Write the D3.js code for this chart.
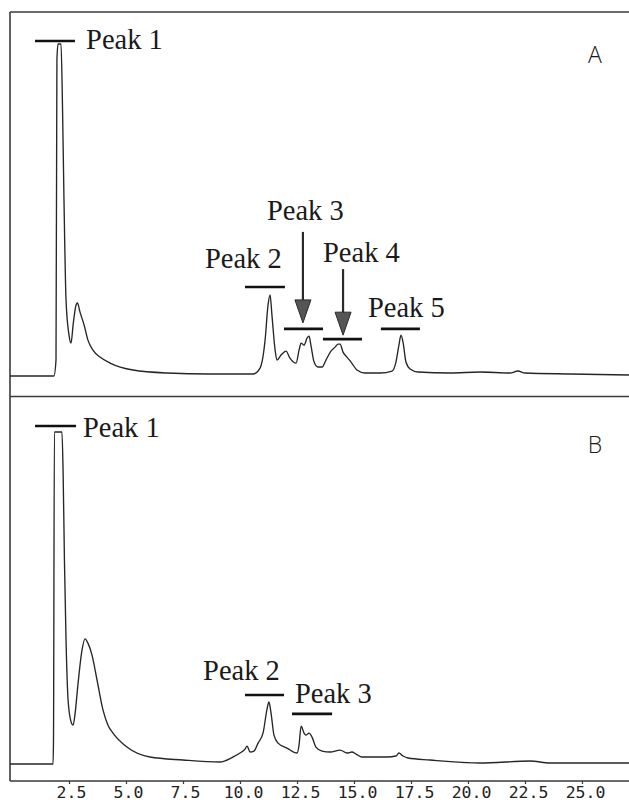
<!DOCTYPE html>
<html>
<head>
<meta charset="utf-8">
<script src="https://cdn.jsdelivr.net/npm/d3@7"></script>
<style>
  html, body { margin: 0; padding: 0; background: #fff; }
  svg { display: block; }
</style>
</head>
<body>
<div id="chart"></div>
<script>
// Retention time (min) and detector signal (relative units) for chromatogram A
const timeA = [-0.1, 1.84, 1.93, 1.97, 2.02, 2.15, 2.21, 2.28, 2.37, 2.50, 2.59, 2.68, 2.81, 2.87, 2.98, 3.16, 3.33, 3.55, 3.86, 4.30, 5.31, 6.80, 8.68, 10.57, 10.88, 11.10, 11.23, 11.32, 11.40, 11.54, 11.62, 11.80, 12.02, 12.19, 12.46, 12.59, 12.68, 12.81, 12.94, 13.03, 13.11, 13.25, 13.42, 13.60, 13.77, 13.99, 14.17, 14.30, 14.39, 14.52, 14.69, 14.87, 15.13, 15.48, 16.14, 16.67, 16.84, 16.97, 17.06, 17.15, 17.28, 17.46, 17.81, 19.21, 20.53, 21.84, 22.19, 22.50, 24.47, 27.1];
const signalA = [0, 0, 4.8, 95.2, 100, 100, 83.1, 53.0, 22.9, 12.3, 9.9, 15.4, 21.4, 22.0, 19.3, 15.4, 10.8, 7.8, 5.7, 3.9, 1.8, 0.9, 0.6, 0.6, 2.4, 10.8, 21.4, 24.4, 18.4, 7.8, 4.8, 6.3, 7.5, 5.4, 3.9, 7.8, 9.9, 9.3, 11.4, 12.0, 9.3, 4.2, 2.7, 2.7, 4.8, 7.5, 8.7, 9.6, 9.6, 7.2, 5.7, 4.2, 1.8, 0.9, 0.9, 1.5, 4.2, 9.3, 12.3, 10.2, 4.2, 2.1, 1.2, 0.9, 1.2, 0.9, 1.5, 0.9, 0.6, 0.3];

// Retention time (min) and detector signal (relative units) for chromatogram B
const timeB = [-0.1, 1.80, 1.82, 1.86, 2.19, 2.24, 2.30, 2.37, 2.46, 2.59, 2.68, 2.76, 2.89, 3.07, 3.20, 3.33, 3.51, 3.73, 3.99, 4.21, 4.43, 5.04, 6.05, 7.50, 9.12, 9.69, 10.00, 10.22, 10.31, 10.44, 10.61, 10.79, 11.01, 11.18, 11.27, 11.36, 11.49, 11.67, 12.06, 12.50, 12.59, 12.68, 12.81, 12.89, 13.03, 13.16, 13.33, 13.60, 13.95, 14.39, 14.69, 14.91, 15.09, 15.35, 16.45, 16.84, 16.97, 17.15, 17.37, 18.33, 20.53, 22.72, 23.60, 27.1];
const signalB = [0, 0, 7.2, 100, 100, 88.6, 61.4, 37.3, 19.3, 12.7, 11.7, 14.8, 23.8, 34.3, 37.7, 36.4, 32.8, 25.3, 16.3, 11.7, 9.3, 5.1, 2.1, 1.2, 0.6, 2.1, 3.3, 4.5, 5.4, 3.6, 3.9, 6.3, 9.3, 16.3, 18.7, 15.4, 8.7, 6.3, 4.8, 3.3, 5.7, 11.4, 9.3, 8.7, 9.3, 8.1, 5.1, 3.9, 3.6, 4.2, 3.3, 3.6, 3.0, 2.1, 2.1, 2.4, 3.3, 2.4, 1.8, 1.2, 0.3, 0.9, 0.3, 0.3];

// Axis tick values (min)
const tickValues = [2.5, 5.0, 7.5, 10.0, 12.5, 15.0, 17.5, 20.0, 22.5, 25.0];

// Peak annotations for A: collection window (min), marker level, label anchor
const peakNamesA = ["Peak 1", "Peak 2", "Peak 3", "Peak 4", "Peak 5"];
const peakStartA = [1.01, 10.22, 11.93, 13.64, 16.18];
const peakEndA   = [2.76, 11.97, 13.64, 15.35, 17.89];
const peakLevelA = [100.9, 26.8, 14.2, 11.1, 14.2];
const labelTimeA  = [3.25, 8.46, 11.18, 13.64, 15.61];
const labelLevelA = [98.5, 32.5, 47.0, 34.3, 17.8];
// Arrows in A pointing at the minor peaks
const arrowTimeA  = [12.76, 14.52];
const arrowFromA  = [43.4, 32.2];
const arrowToA    = [16.0, 12.3];

// Peak annotations for B
const peakNamesB = ["Peak 1", "Peak 2", "Peak 3"];
const peakStartB = [1.01, 10.22, 12.28];
const peakEndB   = [2.81, 11.93, 14.04];
const peakLevelB = [101.8, 20.8, 15.1];
const labelTimeB  = [3.11, 8.38, 12.41];
const labelLevelB = [98.5, 25.3, 18.4];

const panelTitles = ["A", "B"];

// ---- layout ----
const W = 629, H = 802;
const left = 10, right = 629;
const topA = 12, divY = 396.5, bottomY = 781;

const svg = d3.select("#chart").append("svg")
  .attr("width", W).attr("height", H);

const x = d3.scaleLinear().domain([0, 25]).range([12, 582]);
const yA = d3.scaleLinear().domain([0, 100]).range([376, 44]);
const yB = d3.scaleLinear().domain([0, 100]).range([764, 432]);

svg.append("defs").append("clipPath").attr("id", "plotclip")
  .append("rect").attr("x", left).attr("y", topA)
  .attr("width", right - left).attr("height", bottomY - topA);

const frameColor = "#3a3a3a";
const traceColor = "#262626";

// frame: top edge, left edge, panel divider
svg.append("line").attr("x1", left).attr("x2", right).attr("y1", topA).attr("y2", topA)
  .attr("stroke", frameColor).attr("stroke-width", 1.6);
svg.append("line").attr("x1", left).attr("x2", left).attr("y1", topA).attr("y2", bottomY)
  .attr("stroke", frameColor).attr("stroke-width", 1.6);
svg.append("line").attr("x1", left).attr("x2", right).attr("y1", divY).attr("y2", divY)
  .attr("stroke", frameColor).attr("stroke-width", 1.6);

// bottom time axis
const axis = d3.axisBottom(x)
  .tickValues(tickValues)
  .tickFormat(d3.format(".1f"))
  .tickSize(3)
  .tickPadding(2);
const gAxis = svg.append("g").attr("transform", `translate(0,${bottomY})`).call(axis);
gAxis.select(".domain").remove();
gAxis.selectAll(".tick line").attr("stroke", frameColor).attr("stroke-width", 1.2);
gAxis.selectAll(".tick text")
  .attr("font-family", "'DejaVu Sans Mono', 'Liberation Mono', monospace")
  .attr("font-size", 16.5)
  .attr("fill", "#222")
  .attr("dx", d => d >= 10 ? 3 : 2);
svg.append("line").attr("x1", left).attr("x2", right).attr("y1", bottomY).attr("y2", bottomY)
  .attr("stroke", frameColor).attr("stroke-width", 1.6);

// traces
function drawTrace(times, values, y) {
  const pts = times.map((t, i) => [t, values[i]]);
  const line = d3.line().x(d => x(d[0])).y(d => y(d[1])).curve(d3.curveMonotoneX);
  svg.append("path").datum(pts)
    .attr("clip-path", "url(#plotclip)")
    .attr("d", line)
    .attr("fill", "none")
    .attr("stroke", traceColor)
    .attr("stroke-width", 1.35)
    .attr("stroke-linejoin", "round");
}
drawTrace(timeA, signalA, yA);
drawTrace(timeB, signalB, yB);

// peak markers and labels
function drawPeaks(names, starts, ends, levels, lt, ll, y) {
  names.forEach((name, i) => {
    svg.append("line")
      .attr("x1", x(starts[i])).attr("x2", x(ends[i]))
      .attr("y1", y(levels[i])).attr("y2", y(levels[i]))
      .attr("stroke", "#111").attr("stroke-width", 2.6);
    svg.append("text")
      .attr("x", x(lt[i])).attr("y", y(ll[i]))
      .attr("font-family", "'Liberation Serif', 'Times New Roman', serif")
      .attr("font-size", 28.5)
      .attr("fill", "#1a1a1a")
      .text(name);
  });
}
drawPeaks(peakNamesA, peakStartA, peakEndA, peakLevelA, labelTimeA, labelLevelA, yA);
drawPeaks(peakNamesB, peakStartB, peakEndB, peakLevelB, labelTimeB, labelLevelB, yB);

// arrows
arrowTimeA.forEach((t, i) => {
  const ax = x(t), y0 = yA(arrowFromA[i]), y1 = yA(arrowToA[i]);
  const headLen = 23, headHalf = 8;
  svg.append("line")
    .attr("x1", ax).attr("x2", ax).attr("y1", y0).attr("y2", y1 - headLen + 2)
    .attr("stroke", "#2a2a2a").attr("stroke-width", 2.2);
  svg.append("path")
    .attr("d", `M${ax - headHalf},${y1 - headLen} L${ax + headHalf},${y1 - headLen} L${ax},${y1} Z`)
    .attr("fill", "#555").attr("stroke", "#2a2a2a").attr("stroke-width", 1);
});

// panel letters
panelTitles.forEach((t, i) => {
  svg.append("text")
    .attr("x", 595).attr("y", i === 0 ? 63 : 453)
    .attr("text-anchor", "middle")
    .attr("font-family", "'Open Sans', 'Liberation Sans', sans-serif")
    .attr("font-weight", 300)
    .attr("font-size", 23)
    .attr("fill", "#1a1a1a")
    .text(t);
});
</script>
</body>
</html>
